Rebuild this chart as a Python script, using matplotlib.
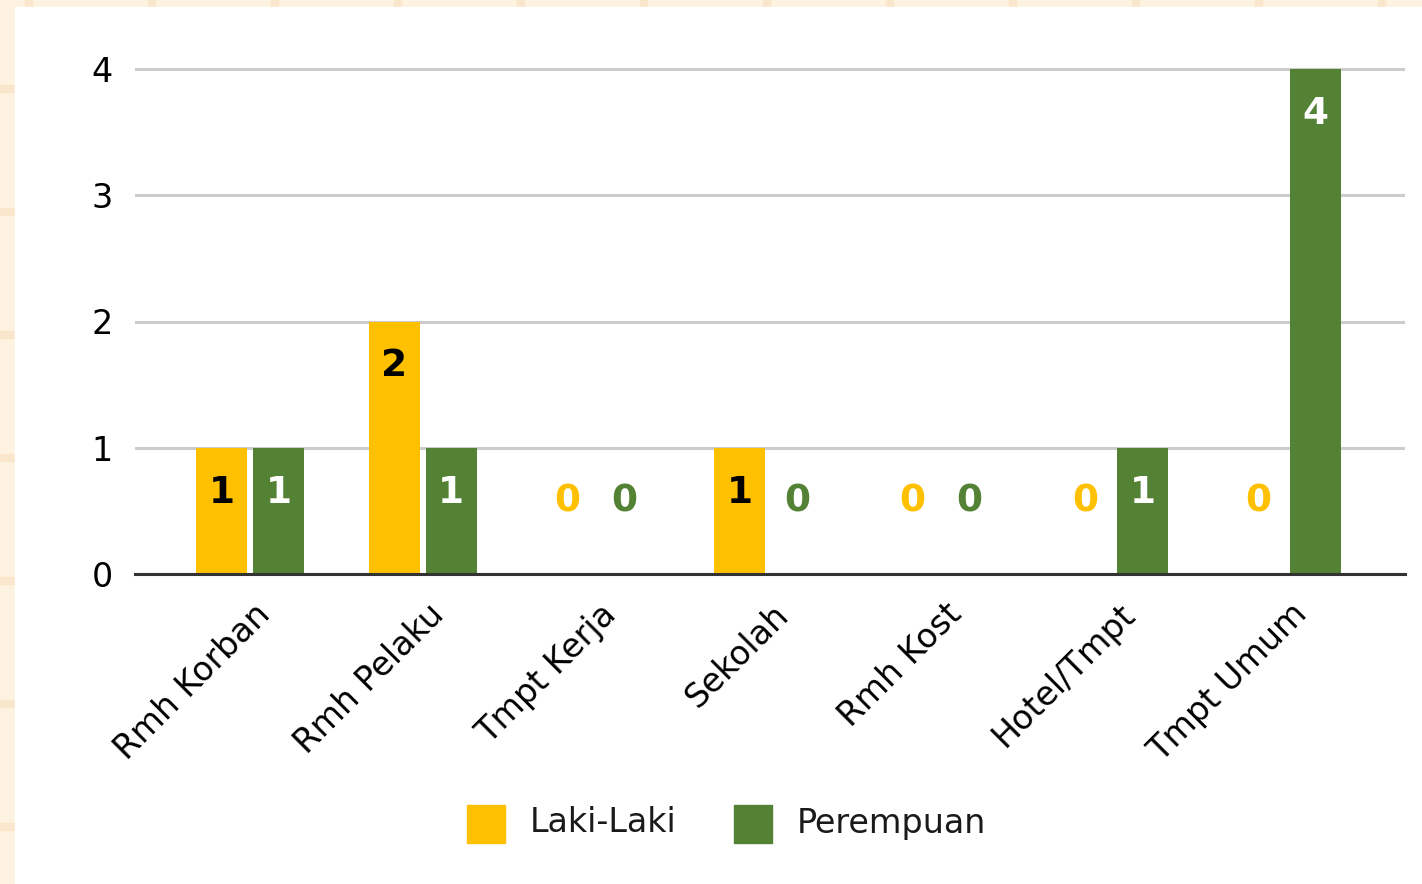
import numpy as np
import matplotlib
matplotlib.use('Agg')
import matplotlib.pyplot as plt
from matplotlib.patches import Rectangle
from matplotlib.transforms import ScaledTranslation

categories = ['Rmh Korban', 'Rmh Pelaku', 'Tmpt Kerja', 'Sekolah',
              'Rmh Kost', 'Hotel/Tmpt', 'Tmpt Umum']
laki = [1, 2, 0, 1, 0, 0, 0]
perempuan = [1, 1, 0, 0, 0, 1, 4]
series_names = ['Laki-Laki', 'Perempuan']
yticks = [0, 1, 2, 3, 4]

yellow = '#FFC000'
green = '#548235'
cream = '#FEF3E0'
cream_line = '#F9E6CB'

W, H = 1422, 884
fig = plt.figure(figsize=(W / 100, H / 100), dpi=100)
fig.patch.set_facecolor(cream)

# spreadsheet-like cell lines behind the white chart card
for x in range(25, W, 123):
    fig.patches.append(Rectangle((x / W, 0), 7 / W, 1, transform=fig.transFigure,
                                 color=cream_line, zorder=0))
for y in range(85, H, 123):
    fig.patches.append(Rectangle((0, 1 - (y + 7) / H), 1, 7 / H, transform=fig.transFigure,
                                 color=cream_line, zorder=0))
fig.patches.append(Rectangle((15 / W, 0), 1, 1 - 7 / H, transform=fig.transFigure,
                             color='white', zorder=1))

unit = 505 / 4
top_val = 4.1
ax = fig.add_axes([135 / W, (H - 574) / H, 1270 / W, top_val * unit / H])
ax.set_facecolor('none')
ax.set_zorder(2)

x = np.arange(len(categories))
bw = 0.295
off = 0.165
ax.bar(x - off, laki, bw, color=yellow, zorder=3)
ax.bar(x + off, perempuan, bw, color=green, zorder=3)

ax.set_xlim(-0.665, 6.684)
ax.set_ylim(0, top_val)
ax.set_yticks(yticks)
ax.set_yticklabels([str(v) for v in yticks], fontsize=24)
ax.grid(axis='y', color='#CCCCCC', linewidth=2.2, zorder=1)
ax.axhline(0, color='#333333', linewidth=2.2, zorder=4, clip_on=False)
for s in ax.spines.values():
    s.set_visible(False)
ax.tick_params(axis='y', length=0, pad=16, colors='black')
ax.tick_params(axis='x', length=0, pad=17)

ax.set_xticks(x)
ax.set_xticklabels(categories, rotation=45, ha='right', rotation_mode='anchor', fontsize=24)
shift = ScaledTranslation(4 / 100, 0, fig.dpi_scale_trans)
for lab in ax.get_xticklabels():
    lab.set_transform(lab.get_transform() + shift)

# value labels
for i in range(len(categories)):
    for val, dx, col, txtcol in [(laki[i], -off, yellow, 'black'),
                                 (perempuan[i], off, green, 'white')]:
        if val > 0:
            ax.text(i + dx, val - 45 / unit, str(val), ha='center', va='center',
                    fontsize=27, fontweight='bold', color=txtcol, zorder=5)
        else:
            ax.text(i + dx, 72 / unit, str(val), ha='center', va='center',
                    fontsize=27, fontweight='bold', color=col, zorder=5)

# legend
for px, col, name in [(467, yellow, series_names[0]), (734, green, series_names[1])]:
    fig.patches.append(Rectangle((px / W, 1 - 843 / H), 38 / W, 38 / H,
                                 transform=fig.transFigure, color=col, zorder=3))
    fig.text((px + 63) / W, 1 - 823 / H, name, fontsize=24, va='center', ha='left',
             color='#1a1a1a', zorder=3)

plt.savefig('out.png', dpi=100, facecolor=fig.get_facecolor())
